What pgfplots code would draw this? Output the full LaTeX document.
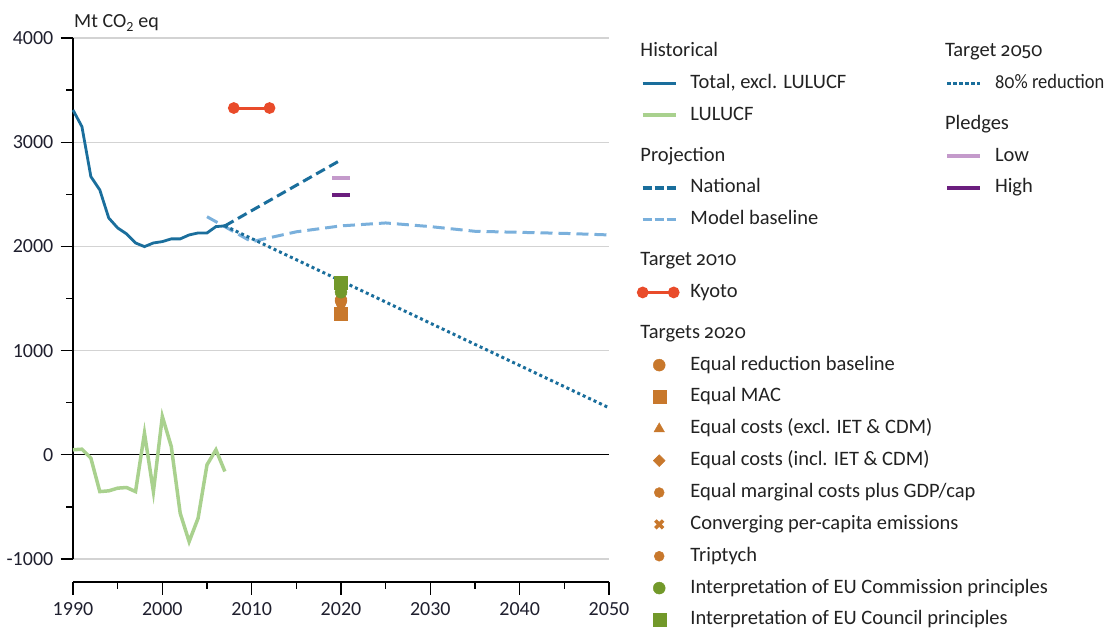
\documentclass[border=0pt]{standalone}
\usepackage{fontspec}
\usepackage{graphicx}
\setmainfont{Carlito}
\newfontfamily\legfont{Carlito}
\newfontfamily\oldnum[Numbers=OldStyle,Scale=0.92]{Fira Sans}
\usepackage{pgfplots}
\pgfplotsset{compat=1.18}
\definecolor{tblue}{HTML}{1A6E9C}
\definecolor{lgreen}{HTML}{A9D18E}
\definecolor{mblue}{HTML}{7AB0DC}
\definecolor{kyoto}{HTML}{E94B2A}
\definecolor{plow}{HTML}{C49ACB}
\definecolor{phigh}{HTML}{6B1E7E}
\definecolor{ocol}{HTML}{C8782C}
\definecolor{gcol}{HTML}{72992A}
\definecolor{gridgray}{HTML}{D3D3D3}
\definecolor{labcol}{HTML}{1F1F2E}
\definecolor{txtcol}{HTML}{222222}
\pgfplotsset{
 legline/.style={legend image code/.code={\path (-4pt,0pt) (37pt,0pt); \draw[##1] (0pt,0pt) -- (33pt,0pt);}},
 legmark/.style={legend image code/.code={\path (-4pt,0pt) (37pt,0pt); \draw[##1] plot coordinates {(16.5pt,0pt)};}},
 legkyoto/.style={legend image code/.code={\path (-4pt,0pt) (37pt,0pt); \draw[##1] plot coordinates {(0pt,0pt) (31pt,0pt)};}},
 mylegend/.style={legend style={anchor=north west, draw=none, fill=none, inner sep=0pt, outer sep=0pt,
   row sep=11.85pt, column sep=9pt, font=\legfont\fontsize{20.5pt}{24pt}\selectfont\color{txtcol},
   nodes={inner sep=0pt, text height=15pt, text depth=5pt}}, legend cell align=left},
}
\begin{document}
\fontsize{20pt}{24pt}\selectfont
\begin{tikzpicture}
\useasboundingbox (-73pt,-72pt) rectangle (1040pt,559pt);
\begin{axis}[
 scale only axis, width=536pt, height=521pt,
 xmin=1990, xmax=2050, ymin=-1000, ymax=4000,
 axis x line*=bottom, axis y line*=left,
 x axis line style={-, yshift=-23pt, line width=1.3pt, black},
 y axis line style={-, line width=1.3pt, black},
 xtick={1990,2000,...,2050}, ytick={-1000,0,...,4000},
 yticklabels={-1000,0,1000,2000,3000,4000},
 minor x tick num=1, minor y tick num=1,
 tick align=outside, major tick length=12.5pt, minor tick length=6.5pt,
 tick style={black, line width=1.3pt},
 xtick style={yshift=-23pt},
 ymajorgrids, major grid style={gridgray, line width=1.2pt},
 xticklabel style={anchor=north, inner sep=0pt, yshift=-31pt},
 yticklabel style={anchor=east, inner sep=0pt, xshift=-7pt},
 ticklabel style={text=labcol, font=\fontsize{20pt}{24pt}\selectfont},
 /pgf/number format/assume math mode=true,
 /pgf/number format/set thousands separator={},
 clip=false,
 mylegend,
 legend style={at={(1.0522,0.9933)}},
]
\addplot[black, line width=1.3pt, forget plot] coordinates {(1990,0)(2050,0)};
\addplot[lgreen, line width=3.5pt, forget plot] coordinates {
(1990,48)(1991,54)(1992,-32)(1993,-353)(1994,-346)(1995,-320)(1996,-314)(1997,-353)(1998,208)(1999,-353)(2000,368)(2001,80)(2002,-561)(2003,-833)(2004,-609)(2005,-96)(2006,48)(2007,-160)};
\addplot[mblue, line width=3pt, dash pattern=on 12pt off 6pt, forget plot] coordinates {
(2005,2285)(2010,2045)(2015,2140)(2020,2197)(2025,2225)(2030,2190)(2035,2145)(2040,2135)(2045,2125)(2050,2110)};
\addplot[tblue, line width=3pt, dash pattern=on 3pt off 3pt, forget plot] coordinates {(2007,2197)(2050,451)};
\addplot[tblue, line width=3pt, dash pattern=on 10pt off 5pt, forget plot] coordinates {(2007,2197)(2020,2830)};
\addplot[tblue, line width=2.8pt, forget plot] coordinates {
(1990,3309)(1991,3149)(1992,2670)(1993,2542)(1994,2273)(1995,2177)(1996,2120)(1997,2033)(1998,1998)(1999,2033)(2000,2046)(2001,2072)(2002,2072)(2003,2110)(2004,2129)(2005,2129)(2006,2190)(2007,2197)};
\addplot[kyoto, line width=3pt, mark=*, mark size=4.3pt, forget plot] coordinates {(2008,3328)(2012,3328)};
\addplot[plow, line width=4pt, forget plot] coordinates {(2019,2660)(2021,2660)};
\addplot[phigh, line width=4.5pt, forget plot] coordinates {(2019,2494)(2021,2494)};
% targets 2020
\addplot[only marks, ocol, mark=x, mark size=5.5pt, line width=3.5pt, forget plot] coordinates {(2020,1540)};
\addplot[only marks, ocol, mark=triangle*, mark size=6pt, forget plot] coordinates {(2020,1520)};
\addplot[only marks, ocol, mark=square*, mark size=4.2pt, mark options={rotate=45}, forget plot] coordinates {(2020,1500)};
\addplot[only marks, ocol, mark=*, mark size=6pt, forget plot] coordinates {(2020,1480)};
\addplot[only marks, ocol, mark=*, mark size=5pt, forget plot] coordinates {(2020,1460)};
\addplot[only marks, ocol, mark=*, mark size=5pt, forget plot] coordinates {(2020,1450)};
\addplot[only marks, ocol, mark=square*, mark size=6.5pt, forget plot] coordinates {(2020,1357)};
\addplot[only marks, gcol, mark=*, mark size=6pt, forget plot] coordinates {(2020,1560)};
\addplot[only marks, gcol, mark=square*, mark size=6.5pt, forget plot] coordinates {(2020,1650)};
% legend
\addlegendimage{empty legend}\addlegendentry{\hspace*{-50pt}Historical}
\addlegendimage{tblue, line width=3.5pt, legline}\addlegendentry{Total, excl. LULUCF}
\addlegendimage{lgreen, line width=3.5pt, legline}\addlegendentry{LULUCF}
\addlegendimage{empty legend}\addlegendentry[text height=24pt]{\hspace*{-50pt}Projection}
\addlegendimage{tblue, line width=3.5pt, dash pattern=on 9pt off 3pt, legline}\addlegendentry{National}
\addlegendimage{mblue, line width=3.5pt, dash pattern=on 9pt off 3pt, legline}\addlegendentry{Model baseline}
\addlegendimage{empty legend}\addlegendentry[text height=24pt]{\hspace*{-50pt}Target {\oldnum 2010}}
\addlegendimage{kyoto, line width=3pt, mark=*, mark size=4.3pt, legkyoto}\addlegendentry{Kyoto}
\addlegendimage{empty legend}\addlegendentry[text height=24pt]{\hspace*{-50pt}Targets {\oldnum 2020}}
\addlegendimage{only marks, ocol, mark=*, mark size=6pt, legmark}\addlegendentry{Equal reduction baseline}
\addlegendimage{only marks, ocol, mark=square*, mark size=6.5pt, legmark}\addlegendentry{Equal MAC}
\addlegendimage{only marks, ocol, mark=triangle*, mark size=6pt, legmark}\addlegendentry{Equal costs (excl. IET \& CDM)}
\addlegendimage{only marks, ocol, mark=square*, mark size=4.2pt, mark options={rotate=45}, legmark}\addlegendentry{Equal costs (incl. IET \& CDM)}
\addlegendimage{only marks, ocol, mark=*, mark size=5pt, legmark}\addlegendentry{Equal marginal costs plus GDP/cap}
\addlegendimage{only marks, ocol, mark=x, mark size=5.5pt, line width=3.5pt, legmark}\addlegendentry{Converging per-capita emissions}
\addlegendimage{only marks, ocol, mark=*, mark size=5pt, legmark}\addlegendentry{Triptych}
\addlegendimage{only marks, gcol, mark=*, mark size=6pt, legmark}\addlegendentry{Interpretation of EU Commission principles}
\addlegendimage{only marks, gcol, mark=square*, mark size=6.5pt, legmark}\addlegendentry{Interpretation of EU Council principles}
\end{axis}
\begin{axis}[
 scale only axis, width=536pt, height=521pt, hide axis,
 xmin=0, xmax=1, ymin=0, ymax=1,
 mylegend,
 legend style={at={(1.6194,0.9933)}},
]
\addlegendimage{empty legend}\addlegendentry{\hspace*{-50pt}Target {\oldnum 2050}}
\addlegendimage{tblue, line width=3.5pt, dash pattern=on 3.5pt off 2.5pt, legline}\addlegendentry{\scalebox{0.9}[1]{{\oldnum 80}\% reduction}}
\addlegendimage{empty legend}\addlegendentry[text height=24pt]{\hspace*{-50pt}Pledges}
\addlegendimage{plow, line width=4pt, legline}\addlegendentry{Low}
\addlegendimage{phigh, line width=4pt, legline}\addlegendentry{High}
\end{axis}
\node[anchor=base west, inner sep=0pt, text=txtcol] at (1pt,531pt) {Mt CO\textsubscript{2} eq};
\end{tikzpicture}
\end{document}
